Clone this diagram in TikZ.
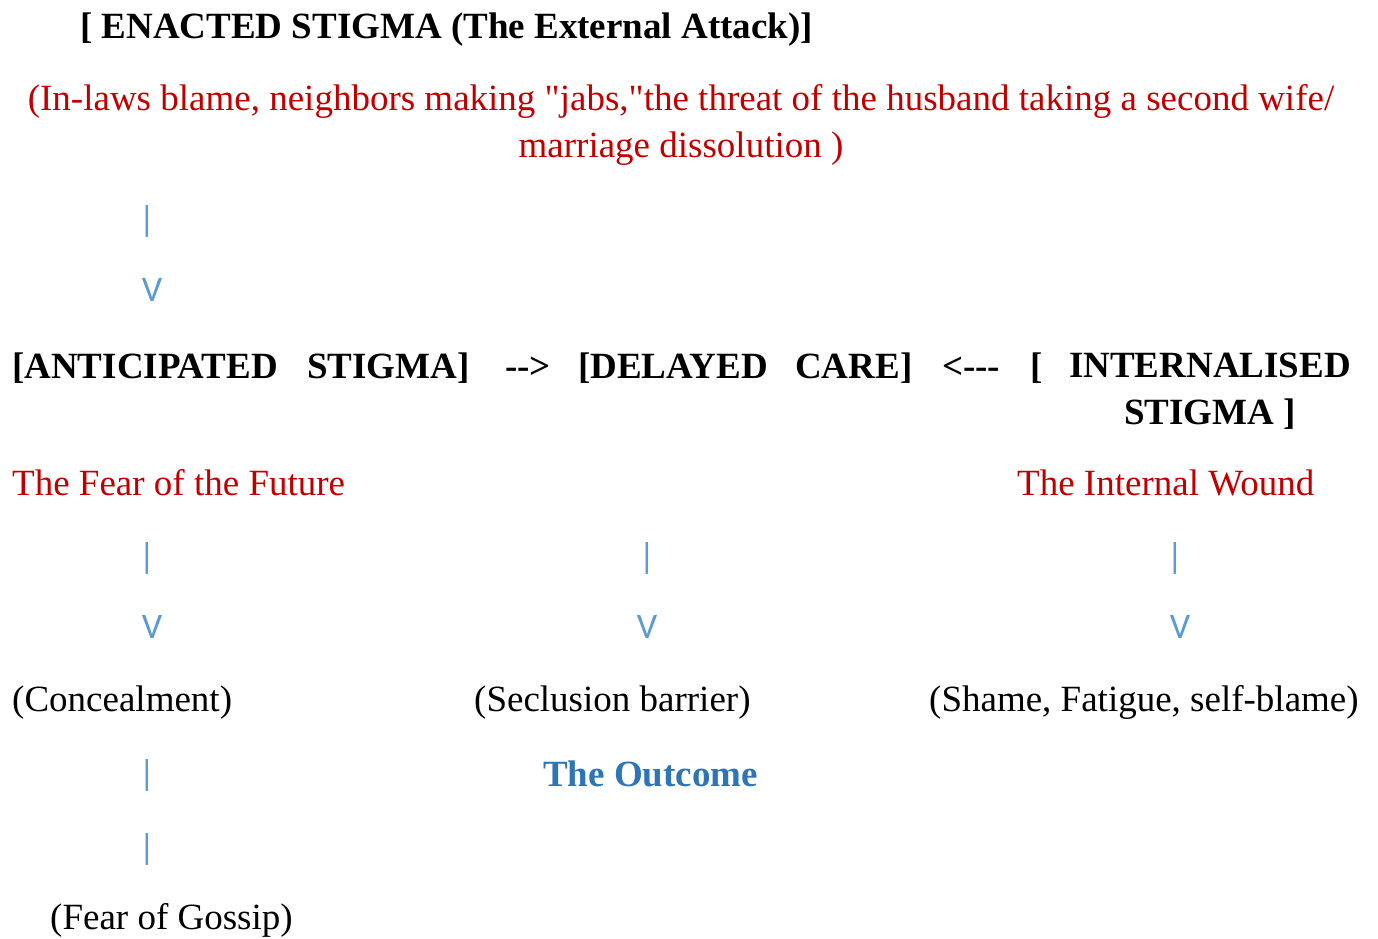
\documentclass[tikz,border=0pt]{standalone}
\usepackage{fontspec}
\setmainfont{Liberation Serif}[Ligatures=TeXOff]
\newfontfamily\barfont{Carlito}
\usetikzlibrary{positioning}
\definecolor{stigmaRed}{RGB}{192,0,0}
\definecolor{stigmaBlue}{RGB}{91,155,213}
\definecolor{outcomeBlue}{RGB}{46,117,182}

\begin{document}
\begin{tikzpicture}[x=1pt,y=-1pt,
  txt/.style={inner sep=0pt, font=\fontsize{37}{47}\selectfont},
  head/.style={inner sep=0pt, font=\fontsize{37}{47}\selectfont\bfseries},
  cause/.style={txt, text=stigmaRed},
  glyph/.style={inner sep=0pt, text=stigmaBlue, font=\barfont\fontsize{36}{40}\selectfont}]
\useasboundingbox (0,0) rectangle (1378,938);
% top: the external attack
\node[head, anchor=base west] (enacted) at (80,38) {[ ENACTED STIGMA (The External Attack)]};
\node[cause, align=center, anchor=base] (attack) at (681,157)
  {(In-laws blame, neighbors making "jabs,"the threat of the husband taking a second wife/\\marriage dissolution )};
\node[glyph] (barTop) at (147,221) {|};
\node[glyph] (vTop) at (152,290) {V};
% middle row
\node[head, anchor=base west] (anticip) at (12,378) {[ANTICIPATED\hspace{20pt} STIGMA]};
\node[head, anchor=base west] (toDelay) at (505,378) {-->};
\node[head, anchor=base west] (delay) at (578,378) {[DELAYED\hspace{18pt} CARE]};
\node[head, anchor=base west] (fromInt) at (942,378) {<---};
\node[head, anchor=base west] (intBrk) at (1030,378) {[};
\node[head, align=center, anchor=base] (intern) at (1210,424) {INTERNALISED\\STIGMA ]};
\node[cause, anchor=base west] (fear) at (12,495) {The Fear of the Future};
\node[cause, anchor=base west] (wound) at (1017,495) {The Internal Wound};
\node[glyph] (barA) at (147,558) {|};
\node[glyph] (barB) at (647,558) {|};
\node[glyph] (barC) at (1175,558) {|};
\node[glyph] (vA) at (152,627) {V};
\node[glyph] (vB) at (647,627) {V};
\node[glyph] (vC) at (1180,627) {V};
% bottom: the outcome
\node[txt, anchor=base west] (conceal) at (12,711) {(Concealment)};
\node[txt, anchor=base west] (seclude) at (474,711) {(Seclusion barrier)};
\node[txt, anchor=base west] (shame) at (929,711) {(Shame, Fatigue, self-blame)};
\node[glyph] (barD) at (147,775) {|};
\node[head, text=outcomeBlue, anchor=base west] (outcome) at (543,786) {The Outcome};
\node[glyph] (barE) at (147,849) {|};
\node[txt, anchor=base west] (gossip) at (50,929) {(Fear of Gossip)};
\end{tikzpicture}
\end{document}
